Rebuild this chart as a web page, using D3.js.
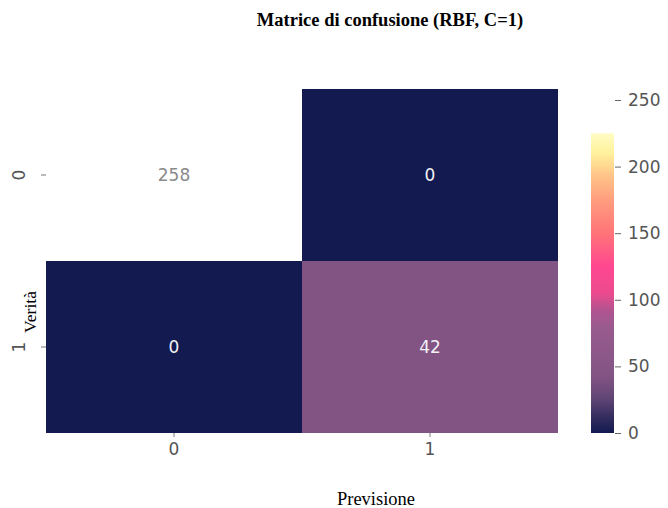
<!DOCTYPE html>
<html>
<head>
<meta charset="utf-8">
<script src="https://cdn.jsdelivr.net/npm/d3@7"></script>
<style>
  html, body { margin: 0; padding: 0; background: #fff; }
  svg { display: block; }
</style>
</head>
<body>
<svg id="chart" width="668" height="508"></svg>
<script>
// Confusion matrix for the RBF SVM (C = 1)
const truthLabels = ["0", "1"];
const predLabels = ["0", "1"];
const counts = [
  [258, 0],
  [0, 42]
];
const colorbarTicks = [0, 50, 100, 150, 200, 250];
const colorbarMax = 225;

// Colour ramp: dark navy through purple and pink to pale yellow, white at the top count
const rampStops = [0, 12, 25, 42, 60, 80, 92, 105, 125, 150, 175, 195, 210, 225, 258];
const rampColors = ["#121a50", "#342c5e", "#5e4474", "#825484", "#8c5889", "#9a5a8e", "#b05490", "#ec4a8e",
                    "#ff4790", "#ff7478", "#ff9d7e", "#ffc88a", "#fff19c", "#fffcc4", "#ffffff"];
const color = d3.scaleLinear().domain(rampStops).range(rampColors).clamp(true);

const svg = d3.select("#chart");
const font = "'DejaVu Sans', sans-serif";
const serif = "'Liberation Serif', 'Times New Roman', serif";

const x = d3.scaleBand().domain(predLabels).range([46, 558]);
const y = d3.scaleBand().domain(truthLabels).range([89, 433]);

// Title
svg.append("text")
  .attr("x", 390).attr("y", 26)
  .attr("text-anchor", "middle")
  .attr("font-family", serif).attr("font-weight", "bold").attr("font-size", 18.5)
  .attr("fill", "#000")
  .text("Matrice di confusione (RBF, C=1)");

// Cells
const cells = [];
truthLabels.forEach((t, i) => predLabels.forEach((p, j) => cells.push({ t, p, v: counts[i][j] })));

svg.append("g").selectAll("rect").data(cells).join("rect")
  .attr("x", d => x(d.p)).attr("y", d => y(d.t))
  .attr("width", x.bandwidth()).attr("height", y.bandwidth())
  .attr("fill", d => color(d.v));

// Cell annotations
svg.append("g").selectAll("text").data(cells).join("text")
  .attr("x", d => x(d.p) + x.bandwidth() / 2)
  .attr("y", d => y(d.t) + y.bandwidth() / 2)
  .attr("dy", "0.35em")
  .attr("text-anchor", "middle")
  .attr("font-family", font).attr("font-size", 17)
  .attr("fill", d => d.v > 200 ? "#8a8a8a" : "#f2f0f4")
  .text(d => d.v);

// X axis
const xAxis = svg.append("g").attr("transform", "translate(0,433)")
  .call(d3.axisBottom(x).tickSize(4).tickPadding(6));
xAxis.select(".domain").remove();
xAxis.selectAll("line").attr("stroke", "#777");
xAxis.selectAll("text").attr("font-family", font).attr("font-size", 17).attr("fill", "#555");

// Y axis with rotated tick labels
const yAxis = svg.append("g").attr("transform", "translate(46,0)")
  .call(d3.axisLeft(y).tickSize(5).tickPadding(0));
yAxis.select(".domain").remove();
yAxis.selectAll("line").attr("stroke", "#777");
yAxis.selectAll("text")
  .attr("font-family", font).attr("font-size", 17).attr("fill", "#555")
  .attr("text-anchor", "middle").attr("dy", null)
  .attr("transform", "translate(-27,0) rotate(-90)")
  .attr("x", 0).attr("y", 0)
  .attr("dominant-baseline", "central");

// Axis titles
svg.append("text")
  .attr("x", 376).attr("y", 505)
  .attr("text-anchor", "middle")
  .attr("font-family", serif).attr("font-size", 18.5).attr("fill", "#000")
  .text("Previsione");

svg.append("text")
  .attr("transform", "translate(36,312) rotate(-90)")
  .attr("text-anchor", "middle")
  .attr("font-family", serif).attr("font-size", 17.5).attr("fill", "#000")
  .text("Verità");

// Colour bar
const cb = d3.scaleLinear().domain([0, 250]).range([433, 100]);
const defs = svg.append("defs");
const grad = defs.append("linearGradient").attr("id", "cbgrad")
  .attr("x1", 0).attr("y1", 1).attr("x2", 0).attr("y2", 0);
d3.range(0, colorbarMax + 1, 5).forEach(v => {
  grad.append("stop").attr("offset", v / colorbarMax).attr("stop-color", color(v));
});
svg.append("rect")
  .attr("x", 591).attr("y", cb(colorbarMax))
  .attr("width", 23).attr("height", cb(0) - cb(colorbarMax))
  .attr("fill", "url(#cbgrad)");

const cAxis = svg.append("g").attr("transform", "translate(614,0)")
  .call(d3.axisRight(cb).tickValues(colorbarTicks).tickSize(6).tickPadding(8));
cAxis.select(".domain").remove();
cAxis.selectAll("line").attr("stroke", "#666").attr("transform", "translate(1,0)");
cAxis.selectAll("text").attr("font-family", font).attr("font-size", 17).attr("fill", "#555");
</script>
</body>
</html>
